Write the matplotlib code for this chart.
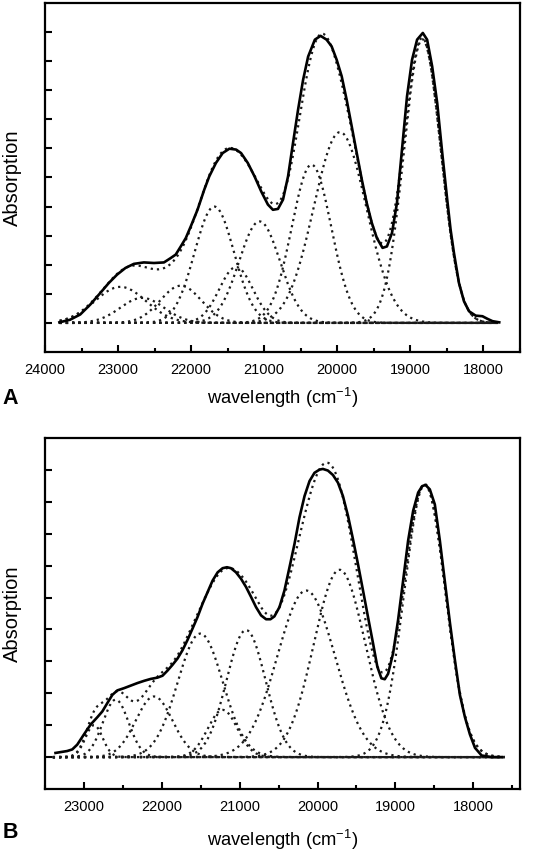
import numpy as np
import matplotlib
matplotlib.use("Agg")
import matplotlib.pyplot as plt
from matplotlib.ticker import MultipleLocator, NullFormatter

plt.rcParams['font.family'] = ['Liberation Sans', 'DejaVu Sans']

# ---------------- Panel A data ----------------
a_wn = [23803, 23656, 23518, 23381, 23243, 23128, 23014, 22899, 22784, 22647,
        22509, 22372, 22280, 22211, 22142, 22073, 22005, 21913, 21821, 21752,
        21661, 21569, 21477, 21385, 21317, 21225, 21133, 21041, 20950, 20881,
        20812, 20743, 20674, 20606, 20537, 20468, 20399, 20307, 20229, 20147,
        20078, 20009, 19940, 19872, 19803, 19734, 19665, 19597, 19528, 19459,
        19381, 19321, 19252, 19184, 19115, 19046, 18977, 18908, 18830, 18771,
        18702, 18633, 18564, 18496, 18450, 18404, 18335, 18266, 18197, 18106,
        18014, 17945, 17876, 17784]
a_abs = [0.002, 0.011, 0.029, 0.063, 0.103, 0.137, 0.166, 0.189, 0.203, 0.208,
         0.206, 0.208, 0.223, 0.235, 0.263, 0.292, 0.332, 0.389, 0.458, 0.504,
         0.550, 0.584, 0.599, 0.596, 0.584, 0.550, 0.504, 0.452, 0.407, 0.389,
         0.392, 0.424, 0.504, 0.619, 0.733, 0.836, 0.916, 0.974, 0.987, 0.974,
         0.951, 0.905, 0.848, 0.767, 0.676, 0.584, 0.493, 0.412, 0.344, 0.292,
         0.258, 0.263, 0.309, 0.412, 0.596, 0.779, 0.905, 0.974, 0.997, 0.974,
         0.882, 0.756, 0.584, 0.424, 0.321, 0.241, 0.137, 0.074, 0.040, 0.025,
         0.023, 0.014, 0.006, 0.002]
a_centers = [22968, 22670, 22142, 21683, 21385, 21064, 20353, 19963, 18835]
a_heights = [0.124, 0.086, 0.128, 0.400, 0.192, 0.349, 0.544, 0.656, 0.975]
a_widths = [350, 300, 280, 270, 230, 280, 270, 360, 253]
a_range = (23800, 17800)
a_ticks = [24000, 23000, 22000, 21000, 20000, 19000, 18000]

# ---------------- Panel B data ----------------
b_wn = [23365, 23215, 23150, 23086, 23000, 22914, 22828, 22764, 22700, 22635,
        22571, 22485, 22399, 22313, 22227, 22142, 22056, 21991, 21927, 21863,
        21798, 21734, 21670, 21605, 21541, 21476, 21412, 21348, 21283, 21219,
        21163, 21112, 21047, 20983, 20918, 20854, 20790, 20725, 20661, 20605,
        20554, 20489, 20425, 20360, 20296, 20232, 20167, 20103, 20039, 19974,
        19931, 19867, 19802, 19738, 19674, 19609, 19545, 19481, 19416, 19352,
        19287, 19232, 19180, 19137, 19094, 19030, 18966, 18901, 18837, 18772,
        18708, 18657, 18614, 18558, 18494, 18429, 18365, 18300, 18236, 18172,
        18107, 18043, 17978, 17893, 17764, 17635]
b_abs = [0.013, 0.019, 0.024, 0.039, 0.071, 0.102, 0.125, 0.143, 0.169, 0.195,
         0.209, 0.216, 0.224, 0.232, 0.239, 0.245, 0.249, 0.255, 0.271, 0.289,
         0.309, 0.335, 0.367, 0.403, 0.439, 0.481, 0.517, 0.553, 0.579, 0.592,
         0.595, 0.592, 0.579, 0.559, 0.533, 0.502, 0.470, 0.444, 0.432, 0.432,
         0.441, 0.470, 0.522, 0.595, 0.668, 0.751, 0.818, 0.865, 0.891, 0.901,
         0.903, 0.898, 0.884, 0.860, 0.818, 0.756, 0.683, 0.605, 0.522, 0.439,
         0.356, 0.283, 0.247, 0.244, 0.261, 0.325, 0.429, 0.553, 0.678, 0.772,
         0.829, 0.849, 0.853, 0.839, 0.792, 0.678, 0.550, 0.421, 0.304, 0.195,
         0.125, 0.071, 0.029, 0.005, 0.000, 0.000]
b_centers = [22870, 22592, 22099, 21506, 21219, 20918, 20146, 19717, 18622]
b_heights = [0.100, 0.180, 0.190, 0.387, 0.148, 0.398, 0.522, 0.587, 0.853]
b_widths = [110, 165, 235, 290, 190, 250, 370, 330, 265]
b_range = (23400, 17600)
b_ticks = [23000, 22000, 21000, 20000, 19000, 18000]

W, H = 534, 852
fig = plt.figure(figsize=(W / 100, H / 100), dpi=100)


def panel(rect, wn, ab, cen, hei, wid, rng, ticks, xlim, ylim, yticks, xlpad):
    ax = fig.add_axes(rect)
    x = np.linspace(rng[0], rng[1], 1200)
    total = np.zeros_like(x)
    for c, h, s in zip(cen, hei, wid):
        g = h * np.exp(-0.5 * ((x - c) / s) ** 2)
        total += g
        ax.plot(x, g, color='#1a1a1a', lw=1.6, ls=(0, (1, 1.8)))
    ax.plot(x, total, color='#1a1a1a', lw=1.6, ls=(0, (1, 1.8)))
    ax.plot(wn, ab, color='black', lw=1.9, solid_joinstyle='round')
    ax.set_xlim(*xlim)
    ax.set_ylim(*ylim)
    ax.set_xticks(ticks)
    ax.set_xticklabels([str(t) for t in ticks])
    ax.xaxis.set_minor_locator(MultipleLocator(500))
    ax.set_yticks(yticks)
    ax.yaxis.set_major_formatter(NullFormatter())
    ax.tick_params(axis='x', which='major', direction='in', length=5, width=1.5,
                   labelsize=10.5, pad=8, colors='black')
    ax.tick_params(axis='x', which='minor', direction='in', length=3, width=1.5)
    ax.tick_params(axis='y', which='major', direction='in', length=5, width=1.5)
    for sp in ax.spines.values():
        sp.set_linewidth(1.6)
    ax.set_ylabel('Absorption', fontsize=14.5, labelpad=13)
    ax.set_xlabel('wavelength (cm$^{\\mathregular{-1}}$)', fontsize=13.2, labelpad=xlpad)
    return ax


axA = panel([45 / W, 1 - 352 / H, 475 / W, 349 / H], a_wn, a_abs, a_centers,
            a_heights, a_widths, a_range, a_ticks, (24000, 17500), (-0.1, 1.1),
            np.arange(0, 1.01, 0.1), 6)
axB = panel([45 / W, 1 - 789 / H, 475 / W, 351 / H], b_wn, b_abs, b_centers,
            b_heights, b_widths, b_range, b_ticks, (23500, 17400), (-0.1, 1.0),
            np.arange(0, 0.91, 0.1), 10)

fig.text(10 / W, 1 - 398 / H, 'A', fontsize=15.5, fontweight='bold', va='center', ha='center')
fig.text(10 / W, 1 - 833 / H, 'B', fontsize=15.5, fontweight='bold', va='center', ha='center')

fig.savefig('out.png', dpi=100)
